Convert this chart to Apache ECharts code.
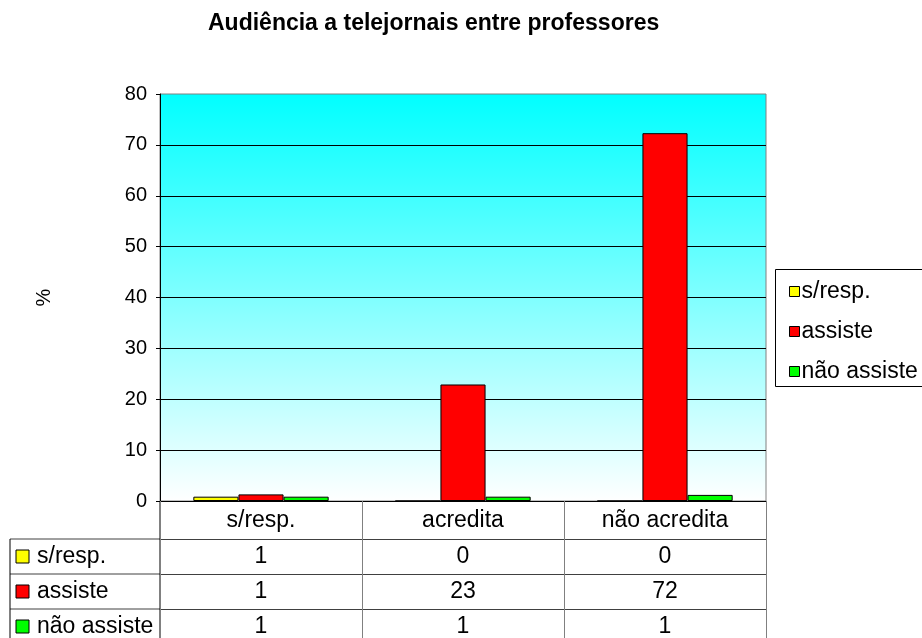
<!DOCTYPE html>
<html>
<head>
<meta charset="utf-8">
<script src="https://cdn.jsdelivr.net/npm/echarts@6/dist/echarts.min.js"></script>
<style>
  html, body { margin: 0; padding: 0; background: #fff; }
  #chart { width: 922px; height: 638px; }
</style>
</head>
<body>
<div id="chart"></div>
<script>
// dados
const categorias = ['s/resp.', 'acredita', 'não acredita'];
const series = ['s/resp.', 'assiste', 'não assiste'];
const cores = ['#FFFF00', '#FF0000', '#00FF00'];
// alturas das barras (%)
const semResposta = [0.85, 0, 0];
const assiste = [1.3, 22.9, 72.3];
const naoAssiste = [0.85, 0.85, 1.2];
// valores da tabela
const tabSemResposta = ['1', '0', '0'];
const tabAssiste = ['1', '23', '72'];
const tabNaoAssiste = ['1', '1', '1'];

const fonte = '"Liberation Sans", Arial, sans-serif';
const gLeft = 160, gTop = 94, gWidth = 606, gHeight = 407;
const gBottom = gTop + gHeight;
const linhas = [38, 73, 108];   // deslocamento das linhas da tabela
const tabLeft = 10;
const legLeft = 775, legTop = 269, legHeight = 117;

let myChart = echarts.init(document.getElementById('chart'));

const tabAxis = (dados, off) => ({
  type: 'category',
  data: dados,
  position: 'bottom',
  offset: off,
  axisLine: { show: true, lineStyle: { color: '#404040', width: 1 } },
  axisTick: { show: false },
  splitLine: { show: false },
  axisLabel: { interval: 0, color: '#000', fontSize: 23, fontFamily: fonte, margin: 6 }
});

// moldura e rótulos da coluna esquerda da tabela
const graficos = [];
linhas.forEach((off, i) => {
  const y = gBottom + off;
  graficos.push({
    type: 'line', shape: { x1: tabLeft, y1: y, x2: gLeft, y2: y },
    style: { stroke: '#404040', lineWidth: 1 }
  });
  graficos.push({
    type: 'rect', shape: { x: tabLeft + 6, y: y + 11, width: 13, height: 13 },
    style: { fill: cores[i], stroke: '#000', lineWidth: 1 }
  });
  graficos.push({
    type: 'text', x: tabLeft + 27, y: y + 18,
    style: { text: series[i], fill: '#000', font: '23px ' + fonte, verticalAlign: 'middle' }
  });
});
graficos.push({
  type: 'line', shape: { x1: tabLeft, y1: gBottom + linhas[0], x2: tabLeft, y2: 640 },
  style: { stroke: '#000', lineWidth: 1 }
});
graficos.push({
  type: 'line', shape: { x1: gLeft, y1: gBottom, x2: gLeft, y2: 640 },
  style: { stroke: '#000', lineWidth: 1 }
});
// caixa da legenda (cortada à direita)
graficos.push({
  type: 'rect', shape: { x: legLeft + 0.5, y: legTop + 0.5, width: 200, height: legHeight },
  style: { fill: 'none', stroke: '#000', lineWidth: 1 }, z: 10
});

myChart.setOption({
  animation: false,
  backgroundColor: '#fff',
  textStyle: { fontFamily: fonte },
  title: {
    text: 'Audiência a telejornais entre professores',
    left: 208,
    top: 12,
    padding: 0,
    textStyle: { fontSize: 23, fontWeight: 'bold', color: '#000', fontFamily: fonte }
  },
  legend: {
    data: series,
    orient: 'vertical',
    left: legLeft,
    top: legTop,
    padding: [11, 0, 6, 14],
    icon: 'rect',
    itemWidth: 10,
    itemHeight: 10,
    itemGap: 17,
    itemStyle: { borderColor: '#000', borderWidth: 1 },
    textStyle: { fontSize: 23, color: '#000', fontFamily: fonte, padding: [0, 0, 0, -3] }
  },
  grid: {
    left: gLeft,
    top: gTop,
    width: gWidth,
    height: gHeight,
    show: true,
    borderColor: '#808080',
    borderWidth: 1,
    backgroundColor: new echarts.graphic.LinearGradient(0, 0, 0, 1, [
      { offset: 0, color: '#00FFFF' },
      { offset: 1, color: '#FFFFFF' }
    ])
  },
  xAxis: [
    {
      type: 'category',
      data: categorias,
      axisLine: { show: true, lineStyle: { color: '#000', width: 1 } },
      axisTick: { show: true, alignWithLabel: false, interval: 0, length: 140, lineStyle: { color: '#808080' } },
      axisLabel: { interval: 0, color: '#000', fontSize: 23, fontFamily: fonte, margin: 8 },
      splitLine: { show: false }
    },
    tabAxis(tabSemResposta, linhas[0]),
    tabAxis(tabAssiste, linhas[1]),
    tabAxis(tabNaoAssiste, linhas[2])
  ],
  yAxis: {
    type: 'value',
    min: 0,
    max: 80,
    interval: 10,
    name: '%',
    nameLocation: 'middle',
    nameRotate: 90,
    nameGap: 106,
    nameTextStyle: { fontSize: 20, color: '#000', fontFamily: fonte },
    axisLine: { show: true, lineStyle: { color: '#000', width: 1 } },
    axisTick: { show: true, inside: false, length: 4, lineStyle: { color: '#000' } },
    axisLabel: { color: '#000', fontSize: 20, fontFamily: fonte, margin: 13 },
    splitLine: { show: true, showMaxLine: false, lineStyle: { color: '#000', width: 1 } }
  },
  series: [
    {
      name: series[0], type: 'bar', data: semResposta,
      barGap: 0, barCategoryGap: '33%',
      itemStyle: { color: cores[0], borderColor: '#000', borderWidth: 1 }
    },
    {
      name: series[1], type: 'bar', data: assiste,
      itemStyle: { color: cores[1], borderColor: '#000', borderWidth: 1 }
    },
    {
      name: series[2], type: 'bar', data: naoAssiste,
      itemStyle: { color: cores[2], borderColor: '#000', borderWidth: 1 }
    }
  ],
  graphic: graficos
});

window.addEventListener('resize', () => {
  if (myChart) {
    myChart.resize();
  }
});
</script>
</body>
</html>
